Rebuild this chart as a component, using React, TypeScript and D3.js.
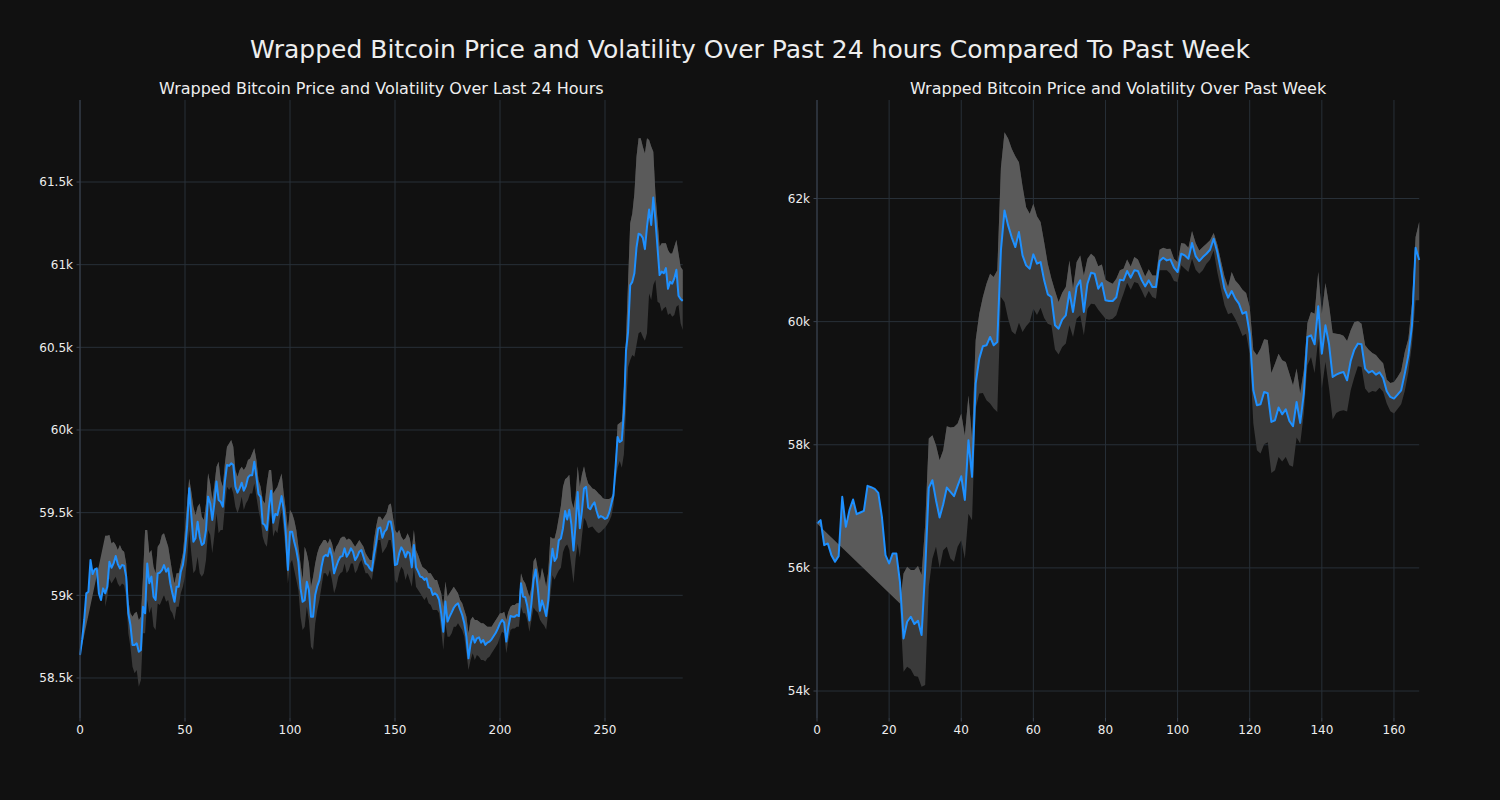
import React from 'react';
import * as d3 from 'd3';

// ---------- Past 24 hours (5-minute samples) ----------
const dayPrice: number[] = [
  58639, 58730, 58851, 59012, 59022, 59214, 59129, 59157, 59163, 59012,
  58972, 59042, 59012, 59052, 59203, 59167, 59193, 59238, 59189, 59163,
  59183, 59179, 59113, 58891, 58821, 58700, 58700, 58710, 58659, 58669,
  58931, 58891, 59193, 59073, 59113, 58992, 58972, 59133, 59137, 59153,
  59183, 59143, 59163, 59073, 59012, 58961, 59052, 59052, 59143, 59183,
  59274, 59415, 59647, 59486, 59324, 59345, 59445, 59355, 59304, 59315,
  59395, 59597, 59557, 59456, 59557, 59688, 59577, 59566, 59536, 59688,
  59788, 59783,
  59798, 59788, 59657, 59621, 59647, 59681, 59633, 59661, 59713, 59727,
  59727, 59808, 59717, 59613, 59596, 59435, 59425, 59395, 59536, 59633,
  59439, 59492, 59485, 59540, 59600, 59516, 59375, 59153, 59385, 59385,
  59324, 59274, 59203, 59042, 58961, 58971, 59082, 59032, 58871, 58871,
  59002, 59056, 59092, 59173, 59233, 59244, 59237, 59284, 59233, 59133,
  59173, 59209, 59233, 59237, 59284, 59233, 59254, 59284, 59264, 59213,
  59233, 59264, 59274, 59233, 59193, 59183, 59163, 59149, 59244, 59314,
  59405, 59410, 59348,
  59385, 59399, 59446, 59446, 59375, 59183, 59189, 59254, 59290, 59270,
  59230, 59264, 59254, 59169, 59304, 59169, 59143, 59113, 59109, 59093,
  59103, 59048, 59042, 59002, 59012, 59002, 58972, 58891, 58780, 58962,
  58841, 58871, 58897, 58925, 58942, 58952, 58915, 58881, 58831, 58750,
  58619, 58706, 58754, 58714, 58740, 58746, 58714, 58730, 58700, 58714,
  58720, 58734, 58754, 58774, 58800, 58831, 58851, 58835, 58720, 58810,
  58875, 58871, 58871, 58881, 58875, 59073, 58992, 58988, 58935, 58848,
  58955,
  59094, 59156, 59042, 58906, 58969, 58927, 58875, 58969, 59167, 59281,
  59208, 59229, 59333, 59344, 59406, 59510, 59458, 59517, 59427, 59271,
  59427, 59625, 59406, 59510, 59646, 59656, 59531, 59521, 59546, 59562,
  59510, 59469, 59479, 59473, 59462, 59469, 59500, 59552, 59604, 59771,
  59958, 59927, 59937, 60104, 60479, 60594, 60875, 60896, 60948, 61104,
  61187, 61181, 61162, 61094, 61229, 61333, 61240, 61406, 61271, 61104,
  60937, 60958, 60948, 60979, 60854, 60896, 60885, 60917, 60969, 60812,
  60792, 60781,
];

const N = null;
const dayUpper: (number | null)[] = [
  N, N, N, N, N, N, N, N, N, N, N, N,
  59360, 59360, 59365, 59314, 59324, 59304, 59274, 59304, 59274, 59264,
  59193, 58971, 58891, 58871, 58891, 58901, 58850, 58871, 59112, 59395,
  59395, 59254, 59274, 59173, 59133, 59294, 59314, 59365, 59375, 59334,
  59294, 59213, 59133, 59072, 59133, 59133, 59193, 59254, 59395, 59556,
  59707, 59627, 59536, 59485, 59536, 59556, 59475, 59455, 59556, 59738,
  59677, 59576, 59667, 59778, 59808, 59697, 59657, 59798, 59899, 59919,
  59939, 59899, 59758, 59717, 59758, 59778, 59758, 59778, 59818, 59828,
  59858, 59889, 59818, 59697, 59657, 59576, 59556, 59677, 59758, 59758,
  59616, 59637, 59657, 59697, 59737, 59616, 59516, 59395, 59516, 59496,
  59455, 59395, 59294, 59193, 59092, 59294, 59254, 59193, 59052, 59112,
  59193, 59254, 59294, 59314, 59334, 59334, 59314, 59344, 59314, 59254,
  59294, 59314, 59344, 59354, 59354, 59334, 59344, 59334, 59314, 59294,
  59314, 59334, 59314, 59294, 59254, 59233, 59213, 59213, 59334, 59415,
  59475, 59475, 59455,
  59476, 59496, 59546, 59556, 59476, 59395, 59375, 59395, 59355, 59335,
  59345, 59375, 59345, 59274, 59395, 59274, 59244, 59204, 59173, 59163,
  59153, 59133, 59133, 59113, 59093, 59093, 59052, 59012, 58931, 59083,
  58992, 59012, 59032, 59052, 59032, 59012, 58972, 58952, 58911, 58871,
  58770, 58851, 58871, 58851, 58851, 58841, 58831, 58831, 58821, 58810,
  58810, 58810, 58831, 58851, 58871, 58891, 58891, 58901, 58851, 58901,
  58931, 58941, 58941, 58952, 58952, 59133, 59093, 59073, 59032, 58990,
  59050,
  59208, 59229, 59156, 59083, 59167, 59115, 59052, 59146, 59354, 59344,
  59344, 59396, 59469, 59542, 59656, 59702, 59713, 59729, 59573, 59525,
  59604, 59781, 59656, 59729, 59781, 59719, 59677, 59663, 59646, 59642,
  59629, 59615, 59604, 59587, 59583, 59583, 59583, 59592, 59621, 59812,
  60031, 60042, 60052, 60250, 60550, 60900, 61250, 61310, 61431, 61653,
  61764, 61764, 61714, 61673, 61764, 61754, 61714, 61683, 61431, 61270,
  61109, 61129, 61129, 61129, 61089, 61068, 61068, 61109, 61149, 61068,
  60988, 60968,
];

const dayLower: (number | null)[] = [
  N, N, N, N, N, N, N, N, N, N, N, N,
  58931, 58990, 59102, 59072, 59092, 59112, 59072, 59052, 59072, 59062,
  58992, 58770, 58689, 58568, 58528, 58548, 58447, 58488, 58770, 58770,
  58971, 58891, 58931, 58810, 58790, 58951, 58941, 58971, 59002, 58961,
  58971, 58911, 58891, 58850, 58931, 58931, 59012, 59052, 59112, 59213,
  59395, 59254, 59133, 59153, 59233, 59133, 59112, 59133, 59213, 59395,
  59365, 59254, 59365, 59496, 59375, 59395, 59395, 59536, 59657, 59637,
  59657, 59616, 59536, 59496, 59536, 59596, 59516, 59556, 59576, 59616,
  59616, 59677, 59596, 59516, 59455, 59354, 59314, 59294, 59415, 59516,
  59354, 59395, 59375, 59455, 59516, 59395, 59254, 59072, 59193, 59213,
  59153, 59092, 59032, 58871, 58790, 58810, 58931, 58850, 58689, 58669,
  58830, 58911, 58971, 59052, 59133, 59133, 59112, 59153, 59092, 59012,
  59052, 59112, 59133, 59143, 59193, 59133, 59153, 59193, 59193, 59133,
  59153, 59193, 59213, 59173, 59133, 59133, 59112, 59092, 59173, 59233,
  59334, 59334, 59254,
  59274, 59294, 59335, 59335, 59254, 59093, 59073, 59133, 59173, 59153,
  59093, 59133, 59093, 59052, 59173, 59052, 59032, 59012, 58992, 58972,
  58992, 58952, 58941, 58911, 58911, 58911, 58891, 58790, 58669, 58831,
  58750, 58750, 58770, 58810, 58810, 58831, 58810, 58790, 58750, 58649,
  58548, 58609, 58649, 58609, 58639, 58629, 58609, 58609, 58599, 58619,
  58629, 58649, 58669, 58689, 58710, 58750, 58780, 58770, 58649, 58730,
  58790, 58800, 58800, 58810, 58810, 58931, 58891, 58891, 58851, 58780,
  58852,
  58927, 58906, 58896, 58854, 58833, 58817, 58792, 58896, 59000, 59121,
  59094, 59125, 59150, 59167, 59260, 59296, 59308, 59275, 59177, 59073,
  59219, 59312, 59229, 59354, 59469, 59448, 59406, 59412, 59417, 59400,
  59385, 59375, 59383, 59396, 59408, 59427, 59448, 59479, 59542, 59688,
  59771, 59813, 59771, 59854, 60125, 60380, 60423, 60454, 60443, 60514,
  60585, 60595, 60564, 60540, 60585, 60826, 60786, 60877, 60907, 60776,
  60766, 60716, 60736, 60746, 60695, 60706, 60685, 60695, 60746, 60756,
  60645, 60605,
];

// ---------- Past week (hourly samples) ----------
const weekPrice: number[] = [
  56721, 56776, 56370, 56397, 56207, 56099, 56191, 57154, 56667, 56938,
  57111, 56873, 56900, 56927, 57333, 57311, 57284, 57219, 56830, 56207,
  56072, 56235, 56235, 55775, 54855, 55125, 55207, 55088, 55142, 54909,
  55964, 57300, 57424, 57100, 56818, 57035, 57305, 57235, 57165, 57332,
  57489, 57105,
  58074, 57479, 58993, 59399, 59599, 59616, 59751, 59616, 59670, 61157,
  61807, 61563, 61370, 61211, 61455, 61076, 60914, 60860, 61093, 60941,
  60968, 60671, 60443, 60400, 59940, 59886, 60032, 60102, 60481, 60157,
  60562, 60671, 60157, 60616, 60795, 60779, 60535, 60627, 60346, 60335,
  60335, 60395, 60680,
  60670, 60822, 60714, 60833, 60822, 60681, 60573, 60670, 60562, 60562,
  60984, 61038, 60995, 61011, 60876, 60806, 61103, 61076, 61022, 61276,
  61065, 60984, 61049, 61103, 61168, 61347, 61130, 60833, 60535, 60389,
  60497, 60373, 60292, 60129, 60156, 59805, 58885, 58642, 58658, 58858,
  58836,
  58371, 58398, 58604, 58495, 58577, 58387, 58301, 58696, 58355, 58831,
  59751, 59778, 59632, 60248, 59480, 59940, 59632, 59101, 59139, 59166,
  59183, 59047, 59361, 59545, 59643, 59632, 59237, 59172, 59199, 59139,
  59177, 59085, 58869, 58777, 58750, 58815, 58885, 59156, 59453, 59940,
  61200, 61000,
];

const weekUpper: (number | null)[] = [
  N, N, N, N, N, N, N, N, N, N, N, N, N, N, N, N, N, N, N, N, N, N, N,
  55420,
  55910, 56018, 55964, 55964, 56029, 55883,
  56700, 58101, 58155, 57992, 57749, 57911, 58301, 58279, 58290, 58344,
  58506, 58150, 58800, 58100,
  59697, 60130, 60400, 60616, 60779, 60725, 60833,
  62500, 63078, 62975, 62807, 62685, 62590, 62200, 61860, 61752, 61915,
  61710, 61617, 61290, 60940, 60700, 60500, 60320, 60470,
  60562, 60995, 60535, 60968, 61076, 60751, 61022, 61103, 61049, 60898,
  60930, 60681, 60644, 60616, 60697, 60833,
  60860, 61011, 60897, 61049, 61011, 60870, 60735, 60849, 60751, 60751,
  61168, 61200, 61179, 61184, 61022, 60968, 61276, 61265, 61200, 61471,
  61276, 61157, 61211, 61265, 61320, 61439, 61255, 60995, 60735, 60562,
  60806, 60670, 60605, 60519, 60465, 60238, 59534, 59453, 59561, 59713,
  59700,
  59166, 59318, 59480, 59372, 59345, 59156, 58966, 59237, 58831, 59210,
  59978, 60156, 60129, 60806, 60129, 60627, 60265, 59815, 59805, 59794,
  59772, 59686, 59859, 59989, 60010, 59967, 59615, 59545, 59491, 59458,
  59383, 59323, 59058, 59004, 59020, 59101, 59199, 59507, 59724, 60292,
  61374, 61617,
];

const weekLower: (number | null)[] = [
  N, N, N, N, N, N, N, N, N, N, N, N, N, N, N, N, N, N, N, N, N, N, N,
  55420,
  54314, 54395, 54352, 54244, 54233, 54071,
  54100, 55700, 56150, 56342, 56000, 56288, 56342, 56153, 56099, 56342,
  56450, 56150, 56880, 56775,
  58588, 58831, 58842, 58723, 58669, 58588, 58533,
  60400, 60320, 60048, 59845, 59790, 59980, 59830, 59925, 59995, 60210,
  60108, 60224, 60060, 59967, 59940, 59548, 59466, 59588,
  59643, 59940, 59751, 60048, 60102, 59778, 60210, 60292, 60281, 60194,
  60119, 60048, 60032, 60048, 60102, 60292,
  60454, 60632, 60519, 60643, 60622, 60508, 60378, 60497, 60400, 60373,
  60833, 60833, 60833, 60779, 60659, 60643, 60914, 60860, 60806, 61022,
  60843, 60779, 60833, 60941, 61006, 61157, 60806, 60535, 60265, 60118,
  60146, 60043, 59913, 59767, 59805, 59480, 58344, 57911, 57857, 58009,
  58040,
  57543, 57587, 57803, 57727, 57803, 57668, 57641, 58117, 58019, 58506,
  59291, 59426, 59166, 59724, 58912, 59345, 58912, 58409, 58517, 58550,
  58560, 58539, 58885, 59091, 59274, 59264, 58912, 58842, 58874, 58863,
  58928, 58863, 58669, 58544, 58506, 58582, 58658, 58874, 59183, 59632,
  60346, 60346,
];

// ---------- Ticks / labels ----------
const dayXTicks = [0, 50, 100, 150, 200, 250];
const dayYTicks = [58500, 59000, 59500, 60000, 60500, 61000, 61500];
const weekXTicks = [0, 20, 40, 60, 80, 100, 120, 140, 160];
const weekYTicks = [54000, 56000, 58000, 60000, 62000];

const suptitle = 'Wrapped Bitcoin Price and Volatility Over Past 24 hours Compared To Past Week';
const dayTitle = 'Wrapped Bitcoin Price and Volatility Over Last 24 Hours';
const weekTitle = 'Wrapped Bitcoin Price and Volatility Over Past Week';

const BG = '#111111';
const GRID = '#283038';
const SPINE = '#3a4350';
const LINE = '#1e90ff';
const BAND_DARK = '#3a3a3a';
const BAND_LIGHT = '#5a5a5a';
const TEXT = '#eeeeee';
const FONT = '"DejaVu Sans", Verdana, sans-serif';

const fmtK = (v: number) => `${d3.format('~g')(v / 1000)}k`;

type PanelProps = {
  price: number[];
  upper: (number | null)[];
  lower: (number | null)[];
  xTicks: number[];
  yTicks: number[];
  yDomain: [number, number];
  left: number;
  right: number;
  top: number;
  bottom: number;
  title: string;
};

function Panel(p: PanelProps) {
  const n = p.price.length;
  const x = d3.scaleLinear().domain([0, n - 1]).range([p.left, p.right]);
  const y = d3.scaleLinear().domain(p.yDomain).range([p.bottom, p.top]);
  const line = d3.line<[number, number]>().x((d) => d[0]).y((d) => d[1]);

  const pricePts: [number, number][] = p.price.map((v, i) => [x(i), y(v)]);
  const upPts: [number, number][] = [];
  const loPts: [number, number][] = [];
  p.upper.forEach((v, i) => { if (v != null) upPts.push([x(i), y(v)]); });
  p.lower.forEach((v, i) => { if (v != null) loPts.push([x(i), y(v)]); });

  const darkPath = line([...loPts, ...upPts.slice().reverse()]) + 'Z';
  const lightPath = line([...pricePts, ...upPts.slice().reverse()]) + 'Z';
  const pricePath = line(pricePts) || '';

  return (
    <g>
      <text x={(p.left + p.right) / 2} y={p.top - 6} fill={TEXT} fontSize={16}
        textAnchor="middle" fontFamily={FONT}>{p.title}</text>
      {p.xTicks.map((t) => (
        <line key={'gx' + t} x1={x(t)} x2={x(t)} y1={p.top} y2={p.bottom} stroke={GRID} strokeWidth={1} />
      ))}
      {p.yTicks.map((t) => (
        <line key={'gy' + t} x1={p.left} x2={p.right} y1={y(t)} y2={y(t)} stroke={GRID} strokeWidth={1} />
      ))}
      <path d={darkPath} fill={BAND_DARK} stroke="none" />
      <path d={lightPath} fill={BAND_LIGHT} stroke="none" />
      <path d={pricePath} fill="none" stroke={LINE} strokeWidth={2} strokeLinejoin="round" />
      <line x1={p.left} x2={p.left} y1={p.top} y2={p.bottom} stroke={SPINE} strokeWidth={1} />
      {p.yTicks.map((t) => (
        <g key={'ty' + t}>
          <line x1={p.left - 3.5} x2={p.left} y1={y(t)} y2={y(t)} stroke={SPINE} />
          <text x={p.left - 7} y={y(t)} dy="0.35em" fill={TEXT} fontSize={12}
            textAnchor="end" fontFamily={FONT}>{fmtK(t)}</text>
        </g>
      ))}
      {p.xTicks.map((t) => (
        <g key={'tx' + t}>
          <line x1={x(t)} x2={x(t)} y1={p.bottom} y2={p.bottom + 3.5} stroke={SPINE} />
          <text x={x(t)} y={p.bottom + 16} fill={TEXT} fontSize={12}
            textAnchor="middle" fontFamily={FONT}>{t}</text>
        </g>
      ))}
    </g>
  );
}

export default function App() {
  return (
    <svg width={1500} height={800} style={{ position: 'absolute', left: 0, top: 0, background: BG }}>
      <rect x={0} y={0} width={1500} height={800} fill={BG} />
      <text x={750} y={58} fill={TEXT} fontSize={25} textAnchor="middle" fontFamily={FONT}>{suptitle}</text>
      <Panel price={dayPrice} upper={dayUpper} lower={dayLower} xTicks={dayXTicks} yTicks={dayYTicks}
        yDomain={[58258, 61996]} left={80} right={682.7} top={100} bottom={718} title={dayTitle} />
      <Panel price={weekPrice} upper={weekUpper} lower={weekLower} xTicks={weekXTicks} yTicks={weekYTicks}
        yDomain={[53562, 63600]} left={817} right={1419.2} top={100} bottom={718} title={weekTitle} />
    </svg>
  );
}
